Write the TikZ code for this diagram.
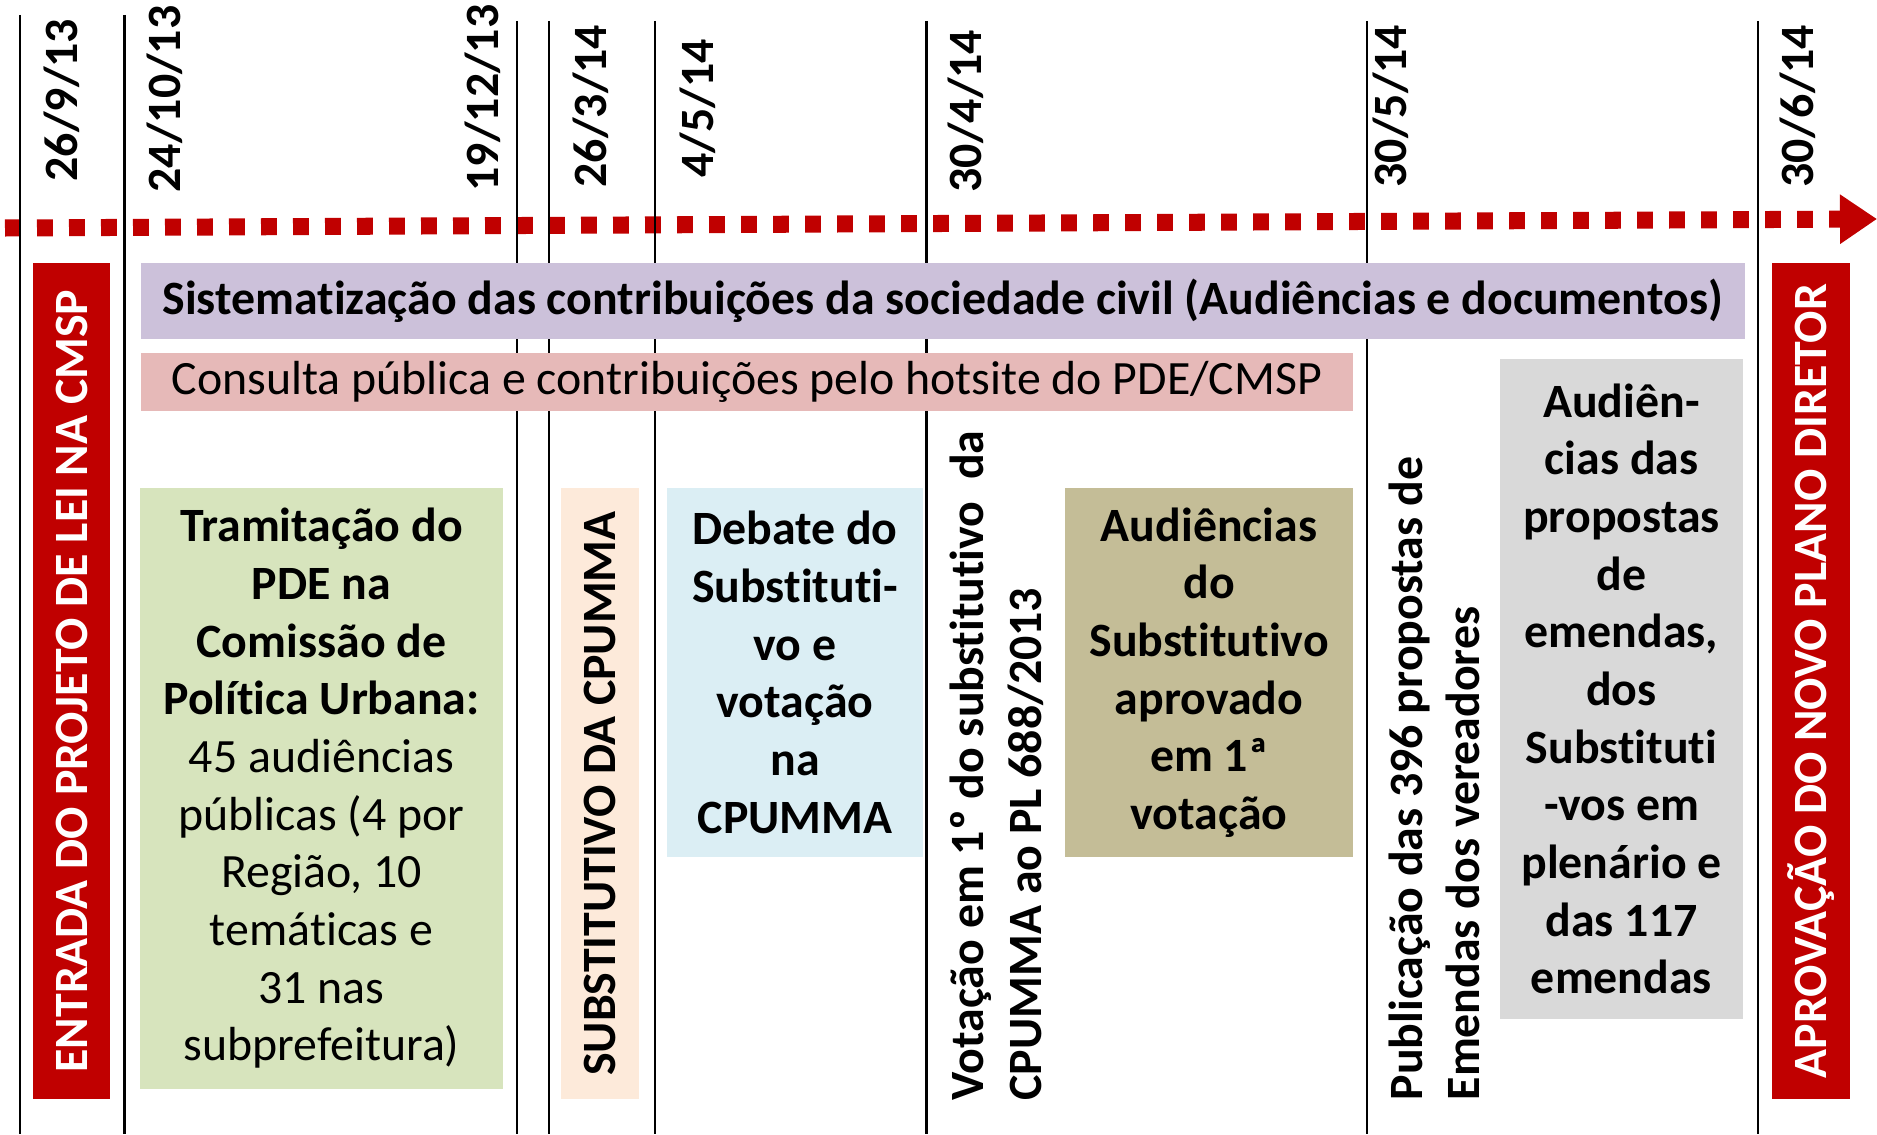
\documentclass[tikz,border=0pt]{standalone}
\usepackage{fontspec}
\setmainfont{Carlito}[Ligatures=CommonOff]
\usetikzlibrary{arrows.meta}

\begin{document}
\begin{tikzpicture}[x=0.01cm, y=-0.01cm,
    every node/.style={font=\fontsize{13.6}{16.4}\selectfont, inner sep=0pt},
    marco/.style={draw, line width=0.6pt},
    datum/.style={rotate=90, anchor=west, font=\fontsize{13.6}{16.4}\selectfont\bfseries},
    caixa/.style={align=center, font=\fontsize{13.6}{16.4}\selectfont\bfseries},
    faixa/.style={rotate=90, font=\fontsize{13.6}{16.4}\selectfont\bfseries}]
    \definecolor{vermelho}{HTML}{C00000}
    \definecolor{lilas}{HTML}{CCC1DA}
    \definecolor{rosa}{HTML}{E6B9B8}
    \definecolor{verde}{HTML}{D7E4BD}
    \definecolor{pessego}{HTML}{FDEADA}
    \definecolor{azul}{HTML}{DBEEF4}
    \definecolor{caqui}{HTML}{C4BD97}
    \definecolor{cinza}{HTML}{D9D9D9}

    \useasboundingbox (0,0) rectangle (1877,1134);

    % linha do tempo
    \path[draw=vermelho, line width=4.84pt, dash pattern=on 4.5pt off 4.6pt,
        -{Triangle[length=0.37cm, width=0.47cm]}] (5,228) -- (1877,219);

    \path[marco] (20,15) -- (20,1134);
    \path[marco] (124.5,15) -- (124.5,1134);
    \path[marco] (517,21) -- (517,1134);
    \path[marco] (549,21) -- (549,1134);
    \path[marco] (655,21) -- (655,1134);
    \path[marco] (926.5,21) -- (926.5,1134);
    \path[marco] (1367,21) -- (1367,1134);
    \path[marco] (1758,21) -- (1758,1134);

    \node[datum] (d1) at (62,182) {26/9/13};
    \node[datum] (d2) at (165,193) {24/10/13};
    \node[datum] (d3) at (483,192) {19/12/13};
    \node[datum] (d4) at (591,188) {26/3/14};
    \node[datum] (d5) at (698,178) {4/5/14};
    \node[datum] (d6) at (966,193) {30/4/14};
    \node[datum] (d7) at (1391,188) {30/5/14};
    \node[datum] (d8) at (1798,188) {30/6/14};

    % faixas horizontais
    \node[fill=lilas, minimum width=16.03cm, minimum height=0.76cm, font=\fontsize{13.6}{16.4}\selectfont\bfseries]
        (sist) at (942.5,301) {Sistematização das contribuições da sociedade civil (Audiências e documentos)};
    \node[fill=rosa, minimum width=12.12cm, minimum height=0.58cm]
        (cons) at (747,382) {Consulta pública e contribuições pelo hotsite do PDE/CMSP};

    % marcos inicial e final
    \node[faixa, fill=vermelho, text=white, minimum width=8.36cm, minimum height=0.765cm]
        (entrada) at (71.75,681) {ENTRADA DO PROJETO DE LEI NA CMSP};
    \node[faixa, fill=vermelho, text=white, minimum width=8.36cm, minimum height=0.78cm]
        (aprov) at (1811,681) {APROVAÇÃO DO NOVO PLANO DIRETOR};

    % etapas
    \node[caixa, fill=verde, minimum width=3.63cm, minimum height=6.01cm] (tram) at (321.5,788.5)
        {Tramitação do\\PDE na\\Comissão de\\Política Urbana:\\\mdseries 45 audiências\\\mdseries públicas (4 por\\\mdseries Região, 10\\\mdseries temáticas e\\\mdseries 31 nas\\\mdseries subprefeitura)};
    \node[faixa, fill=pessego, minimum width=6.11cm, minimum height=0.78cm]
        (subs) at (600,793.5) {SUBSTITUTIVO DA CPUMMA};
    \node[caixa, fill=azul, minimum width=2.56cm, minimum height=3.69cm] (deb) at (795,672.5)
        {Debate do\\Substituti-\\vo e\\votação\\na\\CPUMMA};
    \node[faixa, anchor=west, align=left] (vot) at (996.5,1101)
        {Votação em 1º do substitutivo~ da\\CPUMMA ao PL 688/2013};
    \node[caixa, fill=caqui, minimum width=2.88cm, minimum height=3.69cm] (aud) at (1209,672.5)
        {Audiências\\do\\Substitutivo\\aprovado\\em 1ª\\votação};
    \node[faixa, anchor=west, align=left] (pub) at (1434.5,1101)
        {Publicação das 396 propostas de\\Emendas dos vereadores};
    \node[caixa, fill=cinza, minimum width=2.43cm, minimum height=6.6cm] (audprop) at (1621.5,689)
        {Audiên-\\cias das\\propostas\\de\\emendas,\\dos\\Substituti\\-vos em\\plenário e\\das 117\\emendas};

\end{tikzpicture}
\end{document}
